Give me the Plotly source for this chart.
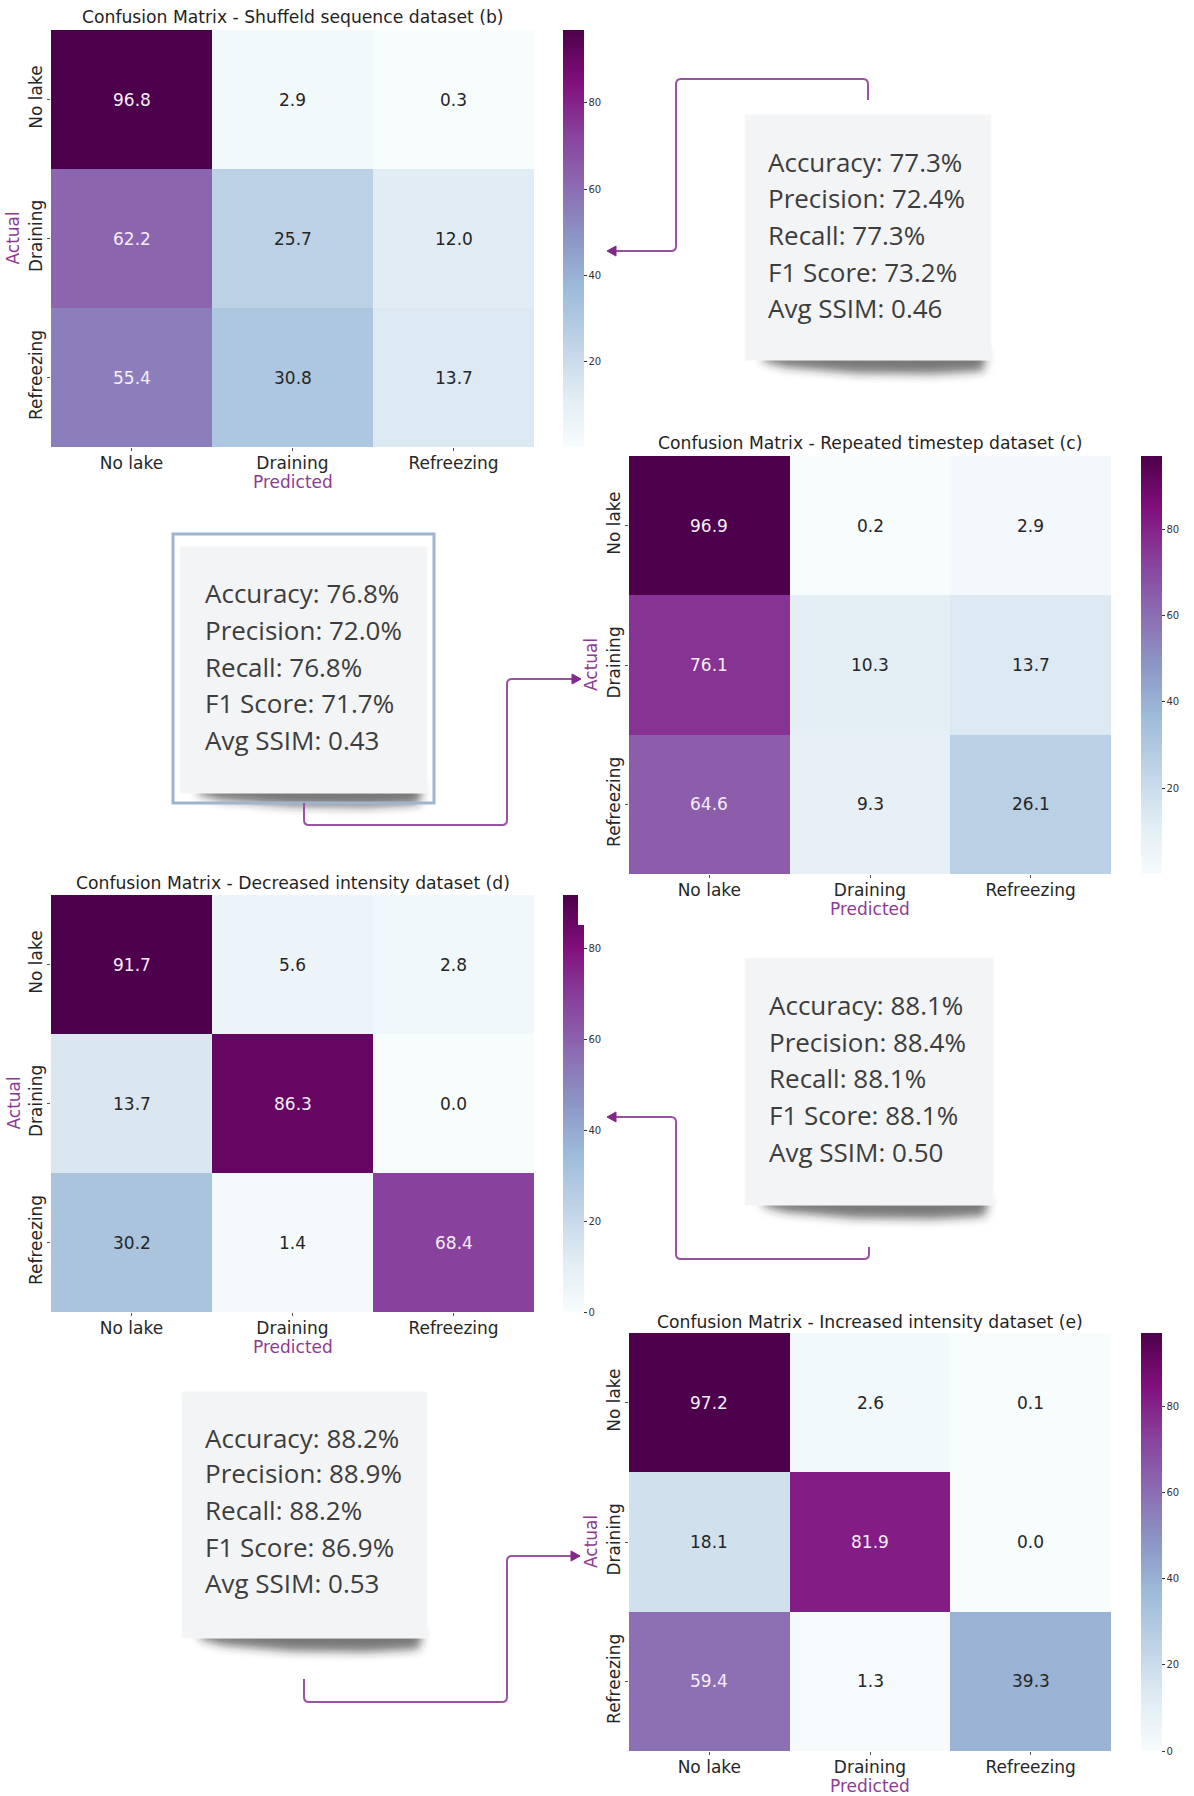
import base64
import plotly.graph_objects as go

W, H = 1194, 1796

# ---- data -------------------------------------------------------------
classes = ["No lake", "Draining", "Refreezing"]

titles = [
    "Confusion Matrix - Shuffeld sequence dataset (b)",
    "Confusion Matrix - Repeated timestep dataset (c)",
    "Confusion Matrix - Decreased intensity dataset (d)",
    "Confusion Matrix - Increased intensity dataset (e)",
]

cm_b = [[96.8, 2.9, 0.3], [62.2, 25.7, 12.0], [55.4, 30.8, 13.7]]
cm_c = [[96.9, 0.2, 2.9], [76.1, 10.3, 13.7], [64.6, 9.3, 26.1]]
cm_d = [[91.7, 5.6, 2.8], [13.7, 86.3, 0.0], [30.2, 1.4, 68.4]]
cm_e = [[97.2, 2.6, 0.1], [18.1, 81.9, 0.0], [59.4, 1.3, 39.3]]

metric_names = ["Accuracy", "Precision", "Recall", "F1 Score", "Avg SSIM"]
metrics_b = [77.3, 72.4, 77.3, 73.2, 0.46]
metrics_c = [76.8, 72.0, 76.8, 71.7, 0.43]
metrics_d = [88.1, 88.4, 88.1, 88.1, 0.50]
metrics_e = [88.2, 88.9, 88.2, 86.9, 0.53]

cbar_ticks = [0, 20, 40, 60, 80]

# ---- styling ----------------------------------------------------------
BUPU = ["#f7fcfd", "#e0ecf4", "#bfd3e6", "#9ebcda", "#8c96c6",
        "#8c6bb1", "#88419d", "#810f7c", "#4d004b"]
PURPLE = "#8e3a95"
LINE = "#9a52a3"
PLOT_FONT = "DejaVu Sans"
BOX_FONT = "Open Sans"


def px(x):
    return x / W


def py(y):
    return 1 - y / H


def hex_rgb(h):
    return tuple(int(h[i:i + 2], 16) for i in (1, 3, 5))


def cmap(t):
    t = min(max(t, 0.0), 1.0) * (len(BUPU) - 1)
    i = min(int(t), len(BUPU) - 2)
    f = t - i
    a, b = hex_rgb(BUPU[i]), hex_rgb(BUPU[i + 1])
    return tuple(a[k] + (b[k] - a[k]) * f for k in range(3))


def luminance(rgb):
    out = []
    for c in rgb:
        c = c / 255
        out.append(c / 12.92 if c <= 0.03928 else ((c + 0.055) / 1.055) ** 2.4)
    return 0.2126 * out[0] + 0.7152 * out[1] + 0.0722 * out[2]


# panel geometry (pixels): heatmap box, colorbar left edge, title line
panels = [
    dict(cm=cm_b, x0=51, x1=534, y0=30, y1=447, cbx=563, ty=17),
    dict(cm=cm_c, x0=629, x1=1111, y0=456, y1=874, cbx=1141, ty=443),
    dict(cm=cm_d, x0=51, x1=534, y0=895, y1=1312, cbx=563, ty=883),
    dict(cm=cm_e, x0=629, x1=1111, y0=1333, y1=1751, cbx=1141, ty=1322),
]

fig = go.Figure()
annotations = []
shapes = []
images = []
layout_axes = {}

tick_font = dict(family=PLOT_FONT, size=17, color="#262626")

for i, (p, title) in enumerate(zip(panels, titles), start=1):
    z = p["cm"]
    flat = [v for row in z for v in row]
    zmin, zmax = min(flat), max(flat)
    xa, ya = f"x{i}", f"y{i}"
    fig.add_trace(go.Heatmap(
        z=z, x=classes, y=classes,
        colorscale=[[k / (len(BUPU) - 1), c] for k, c in enumerate(BUPU)],
        zmin=zmin, zmax=zmax, xaxis=xa, yaxis=ya, hoverinfo="skip",
        colorbar=dict(
            x=px(p["cbx"]), xanchor="left", xpad=0, ypad=0,
            y=py((p["y0"] + p["y1"]) / 2), yanchor="middle",
            len=(p["y1"] - p["y0"]) / H, lenmode="fraction",
            thickness=21, outlinewidth=0,
            tickvals=cbar_ticks, ticks="outside", ticklen=3, tickwidth=1,
            tickcolor="#333333",
            tickfont=dict(family=PLOT_FONT, size=10, color="#333333"),
        ),
    ))
    sfx = "" if i == 1 else str(i)
    layout_axes[f"xaxis{sfx}"] = dict(
        domain=[px(p["x0"]), px(p["x1"])], anchor=ya,
        showgrid=False, zeroline=False, showline=False,
        ticks="outside", ticklen=3, tickcolor="#555555",
        ticklabelstandoff=-2, tickfont=tick_font,
    )
    layout_axes[f"yaxis{sfx}"] = dict(
        domain=[py(p["y1"]), py(p["y0"])], anchor=xa,
        autorange="reversed", tickangle=-90,
        showgrid=False, zeroline=False, showline=False,
        ticks="outside", ticklen=3, tickcolor="#555555",
        ticklabelstandoff=-2, tickfont=tick_font,
    )
    # cell values
    for r, row in enumerate(z):
        for c, v in enumerate(row):
            rgb = cmap((v - zmin) / (zmax - zmin))
            col = "#262626" if luminance(rgb) > 0.408 else "#f6eef6"
            annotations.append(dict(
                x=classes[c], y=classes[r], xref=xa, yref=ya,
                text=f"{v:.1f}", showarrow=False,
                font=dict(family=PLOT_FONT, size=17, color=col)))
    # title and axis labels
    cx = (p["x0"] + p["x1"]) / 2
    annotations.append(dict(
        x=px(cx), y=py(p["ty"]), xref="paper", yref="paper",
        text=title, showarrow=False, xanchor="center", yanchor="middle",
        font=dict(family=PLOT_FONT, size=17.2, color="#1f1f1f")))
    annotations.append(dict(
        x=px(cx), y=py(p["y1"] + 35), xref="paper", yref="paper",
        text="Predicted", showarrow=False, xanchor="center", yanchor="middle",
        font=dict(family=PLOT_FONT, size=17, color=PURPLE)))
    annotations.append(dict(
        x=px(p["x0"] - 38), y=py((p["y0"] + p["y1"]) / 2),
        xref="paper", yref="paper", text="Actual", textangle=-90,
        showarrow=False, xanchor="center", yanchor="middle",
        font=dict(family=PLOT_FONT, size=17, color=PURPLE)))

# small gap at the top of the third colorbar
annotations.append(dict(
    x=px(578), y=py(894), xref="paper", yref="paper", text="",
    showarrow=False, xanchor="left", yanchor="top", width=8, height=31,
    bgcolor="white", borderpad=0, borderwidth=0))


# ---- metric cards -----------------------------------------------------
def fmt_metrics(vals):
    out = []
    for name, v in zip(metric_names, vals):
        out.append(f"{name}: {v:.2f}" if name == "Avg SSIM" else f"{name}: {v:.1f}%")
    return out


def add_shadow(x0, x1, yb):
    # soft curled-paper shadow, rendered as a blurred SVG
    pad = 20
    w = (x1 - x0) + 2 * pad
    h = 40 + 2 * pad
    L, R = pad, pad + (x1 - x0)
    pts = [(L + 18, 12), (R - 4, 12), (R - 8, 31), (R - 60, 34),
           (L + 110, 33), (L + 40, 27), (L + 18, 21)]
    poly = " ".join(f"{a},{b}" for a, b in pts)
    svg = (f'<svg xmlns="http://www.w3.org/2000/svg" width="{w}" height="{h}" '
           f'viewBox="0 0 {w} {h}">'
           '<defs><filter id="b" x="-20%" y="-50%" width="140%" height="200%">'
           '<feGaussianBlur stdDeviation="5"/></filter></defs>'
           f'<polygon points="{poly}" '
           'fill="#262626" fill-opacity="0.62" filter="url(#b)"/></svg>')
    src = "data:image/svg+xml;base64," + base64.b64encode(svg.encode()).decode()
    images.append(dict(
        source=src, xref="paper", yref="paper",
        x=px(x0 - pad), y=py(yb - 20), sizex=w / W, sizey=h / H,
        xanchor="left", yanchor="top", sizing="stretch", layer="above"))


def add_card(x0, x1, y0, y1, text_x, line_ys, vals, border=None):
    if border is not None:
        bx0, bx1, by0, by1 = border
        shapes.append(dict(type="rect", xref="paper", yref="paper",
                           x0=px(bx0), x1=px(bx1), y0=py(by1), y1=py(by0),
                           fillcolor="rgba(255,255,255,0)",
                           line=dict(color="#9fb4d0", width=3)))
    add_shadow(x0, x1, y1)
    shapes.append(dict(type="rect", xref="paper", yref="paper",
                       x0=px(x0), x1=px(x1), y0=py(y1), y1=py(y0),
                       fillcolor="#f3f4f6", line=dict(color="#f7f7f8", width=1)))
    for txt, ly in zip(fmt_metrics(vals), line_ys):
        annotations.append(dict(
            x=px(text_x), y=py(ly), xref="paper", yref="paper", text=txt,
            showarrow=False, xanchor="left", yanchor="middle",
            font=dict(family=BOX_FONT, size=26, color="#3d3d3d")))


def add_connector(points, r=5):
    # orthogonal polyline with rounded corners, ending in an arrowhead
    d = f"M {px(points[0][0])},{py(points[0][1])}"

    def toward(p, q, dist):
        dx, dy = q[0] - p[0], q[1] - p[1]
        ln = (dx * dx + dy * dy) ** 0.5
        return (p[0] + dx / ln * dist, p[1] + dy / ln * dist)

    for k in range(1, len(points) - 1):
        a, b, c = points[k - 1], points[k], points[k + 1]
        s = toward(b, a, r)
        e = toward(b, c, r)
        d += f" L {px(s[0])},{py(s[1])} Q {px(b[0])},{py(b[1])} {px(e[0])},{py(e[1])}"
    tx, ty = points[-1]
    sx, sy = points[-2]
    dx, dy = tx - sx, ty - sy
    ln = (dx * dx + dy * dy) ** 0.5
    ux, uy = dx / ln, dy / ln
    hl, hw = 9, 5
    bxp, byp = tx - ux * hl, ty - uy * hl
    d += f" L {px(bxp)},{py(byp)}"
    shapes.append(dict(type="path", xref="paper", yref="paper", path=d,
                       line=dict(color=LINE, width=2)))
    tri = (f"M {px(tx)},{py(ty)} L {px(bxp - uy * hw)},{py(byp + ux * hw)} "
           f"L {px(bxp + uy * hw)},{py(byp - ux * hw)} Z")
    shapes.append(dict(type="path", xref="paper", yref="paper", path=tri,
                       fillcolor="#82288a", line=dict(color="#82288a", width=1)))


add_card(745, 991, 115, 360, 766, [162, 198, 235, 272, 308], metrics_b)
add_connector([(868, 100), (868, 79), (676, 79), (676, 251), (607, 251)])

add_card(180, 427, 547, 793, 203, [593, 630, 667, 703, 740], metrics_c,
         border=(173, 434, 534, 803))
add_connector([(304, 803), (304, 825), (507, 825), (507, 679), (581, 679)])

add_card(745, 993, 958, 1205, 767, [1005, 1042, 1078, 1115, 1152], metrics_d)
add_connector([(869, 1247), (869, 1259), (676, 1259), (676, 1117), (607, 1117)])

add_card(182, 427, 1392, 1638, 203, [1438, 1473, 1510, 1547, 1583], metrics_e)
add_connector([(304, 1679), (304, 1702), (507, 1702), (507, 1556), (580, 1556)])

fig.update_layout(
    width=W, height=H,
    margin=dict(l=0, r=0, t=0, b=0, autoexpand=False),
    paper_bgcolor="white", plot_bgcolor="white",
    template="none", showlegend=False,
    annotations=annotations, shapes=shapes, images=images,
    **layout_axes,
)

fig.write_html("out.html")
